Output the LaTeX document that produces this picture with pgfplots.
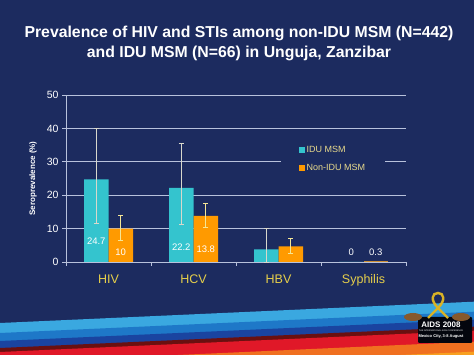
\documentclass[border=0pt]{standalone}
\usepackage{fontspec}
\setmainfont{Liberation Sans}
\usepackage{pgfplots}
\pgfplotsset{compat=1.18}
\definecolor{navy}{RGB}{28,43,95}
\definecolor{barcyan}{RGB}{52,196,206}
\definecolor{barorange}{RGB}{255,154,0}
\definecolor{gridc}{RGB}{184,194,220}
\definecolor{xlab}{RGB}{230,207,74}
\definecolor{legc}{RGB}{232,218,140}
\definecolor{erridu}{RGB}{216,216,204}
\definecolor{errnon}{RGB}{244,230,150}
\definecolor{sA}{RGB}{58,168,224}
\definecolor{sB}{RGB}{30,120,200}
\definecolor{sC}{RGB}{26,68,160}
\definecolor{sD}{RGB}{106,16,16}
\definecolor{sE}{RGB}{224,24,40}
\definecolor{sF}{RGB}{240,112,32}
\definecolor{sG}{RGB}{248,160,32}
\begin{document}
\begin{tikzpicture}[x=1pt,y=1pt]
\useasboundingbox (0,0) rectangle (474,355);
\fill[navy] (0,0) rectangle (474,355);
% decorative stripes
\foreach \d/\c in {0/sA,10/sB,18/sC,25/sD,29/sE,40/sF,50/sG}{
  \fill[\c] (0,32-\d) -- (474,53.3-\d) -- (474,-1) -- (0,-1) -- cycle;
}
% logo
\fill[black!85!navy, rounded corners=1pt] (418,12) rectangle (472,38);
\draw[brown!60!yellow, line width=2.4pt] (428,37) -- (438,47) .. controls (446,55) and (444,62) .. (438,62) .. controls (432,62) and (430,55) .. (438,47) -- (448,37);
\fill[brown!70!black] (413,38) ellipse (9pt and 4pt);
\fill[brown!70!black] (461,38) ellipse (9pt and 4pt);
\node[text=white, font=\bfseries\fontsize{8}{9}\selectfont, inner sep=0] at (441,30) {AIDS 2008};
\node[text=white, font=\fontsize{2.2}{2.5}\selectfont, inner sep=0] at (441,24.5) {THE INTERNATIONAL AIDS CONFERENCE};
\node[text=white, font=\bfseries\fontsize{4}{5}\selectfont, inner sep=0] at (441,19) {Mexico City, 3-8 August};
% title
\node[text=white, font=\bfseries\fontsize{15.8}{18}\selectfont, inner sep=0, anchor=base] at (239,317.3) {Prevalence of HIV and STIs among non-IDU MSM (N=442)};
\node[text=white, font=\bfseries\fontsize{15.8}{18}\selectfont, inner sep=0, anchor=base] at (239,297.7) {and IDU MSM (N=66) in Unguja, Zanzibar};
\begin{axis}[
  at={(66pt,93pt)}, anchor=south west,
  scale only axis, width=340pt, height=167pt,
  xmin=-0.5, xmax=3.5, ymin=0, ymax=50,
  ybar=0pt, bar width=24.5pt,
  ytick={0,10,20,30,40,50},
  xtick={0,1,2,3},
  xticklabels={HIV,HCV,HBV,Syphilis},
  minor xtick={-0.5,0.5,1.5,2.5,3.5},
  major tick length=4pt, minor tick length=4pt,
  tick align=outside,
  every major x tick/.append style={draw=none},
  every minor x tick/.append style={gridc, line width=0.8pt},
  ytick style={gridc, line width=0.8pt},
  axis x line*=bottom, axis y line*=left,
  axis line style={gridc, line width=0.8pt},
  ymajorgrids, grid style={gridc, line width=0.9pt},
  /pgf/number format/assume math mode=true,
  yticklabel style={text=white, font=\fontsize{10.5}{12}\selectfont},
  xticklabel style={text=xlab, font=\fontsize{12.5}{14}\selectfont, yshift=-5pt},
  ylabel={Seroprevalence (\%)},
  ylabel style={at={(axis description cs:-0.097,0.5)}, anchor=center, rotate=0, text=white, font=\bfseries\fontsize{8}{9}\selectfont},
  legend style={at={(0.785,0.617)}, anchor=center, fill=navy, draw=none,
     inner xsep=18pt, inner ysep=3pt, row sep=6pt, text=legc,
     font=\fontsize{9}{10}\selectfont},
  legend cell align=left,
  legend image code/.code={\fill[#1, draw=none] (0pt,-3pt) rectangle (6pt,3pt);},
  clip=false,
]
\addplot[fill=barcyan, draw=none, bar shift=-12.25pt,
  error bars/.cd, y dir=both, y explicit,
  error bar style={color=erridu, line width=0.8pt},
  error mark options={rotate=90, mark size=2.5pt, color=erridu, line width=0.8pt}]
  coordinates {(0,24.7) += (0,15.3) -= (0,13.1)
               (1,22.2) += (0,13.3) -= (0,10.8)
               (2,3.8) += (0,6.3) -= (0,3.8)};
\addlegendentry{IDU MSM}
\addplot[fill=barorange, draw=none, bar shift=12.25pt,
  error bars/.cd, y dir=both, y explicit,
  error bar style={color=errnon, line width=0.8pt},
  error mark options={rotate=90, mark size=2.5pt, color=errnon, line width=0.8pt}]
  coordinates {(0,10) += (0,3.9) -= (0,3.6)
               (1,13.8) += (0,3.8) -= (0,3.4)
               (2,4.7) += (0,2.3) -= (0,2.0)};
\addlegendentry{Non-IDU MSM}
\addplot[bar shift=-12.25pt, fill=barcyan, draw=none, forget plot]
  coordinates {(3,0)};
\addplot[bar shift=12.25pt, fill=barorange!60!gray, draw=none, forget plot]
  coordinates {(3,0.3)};
\node[text=white, font=\fontsize{9.5}{11}\selectfont, xshift=-12.25pt] at (axis cs:0,6.1) {24.7};
\node[text=white, font=\fontsize{9.5}{11}\selectfont, xshift=12.25pt] at (axis cs:0,2.8) {10};
\node[text=white, font=\fontsize{9.5}{11}\selectfont, xshift=-12.25pt] at (axis cs:1,4.3) {22.2};
\node[text=white, font=\fontsize{9.5}{11}\selectfont, xshift=12.25pt] at (axis cs:1,3.8) {13.8};
\node[text=white, font=\fontsize{9.5}{11}\selectfont, xshift=-12.25pt] at (axis cs:3,2.9) {0};
\node[text=white, font=\fontsize{9.5}{11}\selectfont, xshift=12.25pt] at (axis cs:3,3.0) {0.3};
\end{axis}
\end{tikzpicture}
\end{document}
